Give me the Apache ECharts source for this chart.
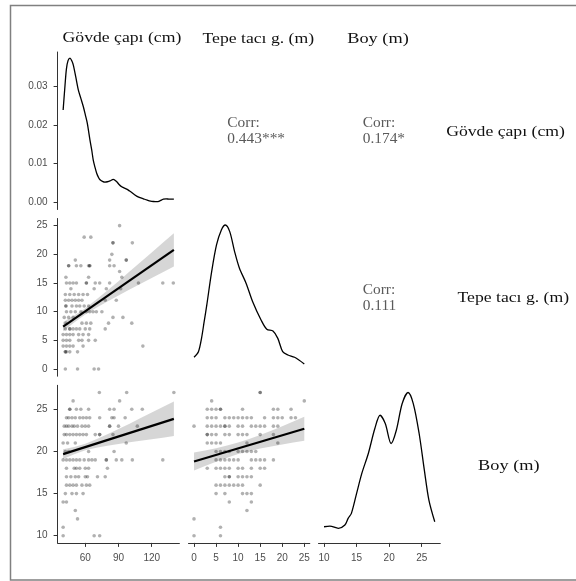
<!DOCTYPE html>
<html><head><meta charset="utf-8">
<script src="https://cdn.jsdelivr.net/npm/echarts@6/dist/echarts.min.js"></script>
<style>html,body{margin:0;padding:0;background:#fff}#c{width:576px;height:581px}</style>
</head><body><div id="c"></div>
<script>
// ---------- DATA ----------
const variables = ['Gövde çapı (cm)', 'Tepe tacı g. (m)', 'Boy (m)'];
const corrTitle = 'Corr:';
const corrGovdeTepe = '0.443***';
const corrGovdeBoy = '0.174*';
const corrTepeBoy = '0.111';

// tick labels
const govdeTicks = [60, 90, 120];
const tepeTicks = [0, 5, 10, 15, 20, 25];
const boyTicks = [10, 15, 20, 25];
const densTicks = [0, 0.01, 0.02, 0.03];

// density of Gövde çapı
const govdeDensX = [40,41.7,43,44.5,46.2,47.8,49.2,51.5,53.7,56,58.2,60,61.8,64.2,65.8,67.2,68.8,70.3,71.8,73.3,75.5,77.8,80,82.3,85.3,88.4,90.5,92.9,95,97.4,100,103.4,106.4,109.4,112.5,115.5,119,121.5,124.5,127,130.5,133,136,140];
const govdeDensY = [0.0238,0.0302,0.0345,0.0366,0.0372,0.0365,0.0354,0.0322,0.0290,0.0268,0.0247,0.0226,0.0204,0.0161,0.0135,0.0109,0.0090,0.0075,0.0065,0.0058,0.0054,0.0052,0.0053,0.0055,0.0059,0.0053,0.0046,0.0040,0.0037,0.0034,0.0029,0.0022,0.0016,0.0012,0.0009,0.0006,0.0003,0.0002,0.00015,0.0003,0.0008,0.0009,0.0008,0.0008];

// density of Tepe tacı
const tepeDensX = [0,1.0,1.7,2.3,2.9,4.0,5.1,6.2,7.1,8.1,9.2,10.3,11.8,13.3,15.2,16.5,17.9,19.0,20.1,21.3,22.8,25];
const tepeDensY = [0.0108,0.0140,0.0216,0.0311,0.0407,0.0597,0.0749,0.0835,0.0863,0.0825,0.0711,0.0616,0.0531,0.0425,0.0321,0.0268,0.0258,0.0216,0.0140,0.0121,0.0108,0.0070];

// density of Boy
const boyDensX = [10,10.9,12.2,13.2,13.7,14.2,15.0,15.8,16.8,17.8,18.6,19.4,20.3,21.1,22.0,22.9,23.7,24.6,25.4,26.1,27];
const boyDensY = [0.0123,0.0128,0.0111,0.0136,0.0187,0.0225,0.0377,0.0529,0.0681,0.0871,0.0972,0.0909,0.0757,0.0858,0.1061,0.1145,0.1061,0.0833,0.0554,0.0326,0.0161];

// scatter: Gövde çapı (x) vs Tepe tacı (y)
const govdeTepePoints = [
 [91,25],[59,23],[65,23],[85,22],[85,22],[102.5,22],[84,20],
 [51,19],[82,19],[97,19],[97,19],
 [45,18],[45,18],[52,18],[56,18],[63,18],[64,18],[64,18],[82,18],[86,18],
 [91,17],[42.5,16],[63,16],[93,16],
 [43,15],[46,15],[49,15],[52,15],[61,15],[61,15],[69,15],[73,15],[82,15],[108,15],[130,15],[139.5,15],
 [47,14],[68,14],[79,14],[92,14],
 [42,13],[46,13],[50,13],[54,13],[58,13],[62,13],
 [42,12],[45,12],[48,12],[51,12],[54,12],[57,12],[78,12],[88,12],
 [42.5,11],[42.5,11],[48,11],[52,11],[55,11],[59,11],[63,11],
 [43,10],[47,10],[51,10],[56,10],[61,10],[64,10],[67,10],[70,10],[75,10],
 [41,9],[45,9],[49,9],[85,9],[94,9],
 [42.5,8],[57,8],[61,8],[65,8],[81,8],[102,8],
 [42,7],[46,7],[46,7],[49,7],[52,7],[55,7],[60,7],[64,7],[78,7],
 [40,6],[43,6],[46,6],[49,6],[54,6],[58,6],[63,6],
 [40,5],[43,5],[46,5],[54,5],[57,5],[63,5],[69,5],
 [40,4],[43,4],[46,4],[49,4],[58,4],[112,4],
 [42,3],[42,3],[43,3],[46,3],[53,3],
 [42,0],[53,0],[68,0],[72,0]
];
// scatter: Gövde çapı (x) vs Boy (y)
const govdeBoyPoints = [
 [72.7,27],[97.4,27],[140,27],[49,26],[91,26],
 [46,25],[46,25],[52,25],[56,25],[63,25],[82,25],[86,25],[102,25],[111.5,25],
 [43,24],[45,24],[48,24],[51,24],[55,24],[58,24],[61,24],[64,24],[73,24],[84,24],[86,24],[96,24],
 [41,23],[43,23],[45,23],[48,23],[50,23],[53,23],[57,23],[60,23],[63,23],[82,23],[82,23],[90,23],[107,23],
 [41,22],[43,22],[46,22],[49,22],[52,22],[55,22],[58,22],[61,22],[69,22],[73,22],[73,22],[85,22],
 [40,21],[44,21],[51,21],[97,21],
 [42,20],[45,20],[63,20],[86,20],
 [40,19],[43,19],[46,19],[49,19],[52,19],[55,19],[59,19],[63,19],[66,19],[69,19],[79,19],[79,19],[88,19],[93,19],[102.5,19],[130,19],
 [43,18],[50,18],[52,18],[55,18],[60,18],[63,18],[80,18],
 [43,17],[47,17],[51,17],[54,17],[60,17],[62,17],[71,17],[78,17],
 [43,16],[46,16],[49,16],[52,16],[57,16],[61,16],[64,16],
 [42,15],[48,15],[52,15],[58,15],
 [40,14],[43,14],[51,13],[53,12],[40,11],[40,10],[68,10],[73,10]
];
// scatter: Tepe tacı (x) vs Boy (y)
const tepeBoyPoints = [
 [15,27],[15,27],[4,26],[25,26],
 [3,25],[4,25],[5,25],[6,25],[6,25],[11,25],[18,25],[19,25],[22,25],
 [3,24],[4,24],[5,24],[7,24],[8,24],[9,24],[10,24],[11,24],[12,24],[13,24],[16,24],[18,24],[19,24],[20,24],[22,24],[23,24],
 [0,23],[3,23],[4,23],[5,23],[6,23],[7,23],[7,23],[8,23],[10,23],[11,23],[13,23],[14,23],[15,23],[16,23],[18,23],[19,23],
 [3,22],[3,22],[4,22],[5,22],[7,22],[8,22],[10,22],[11,22],[12,22],[15,22],[18,22],
 [3,21],[4,21],[5,21],[6,21],[12,21],[19,21],
 [5,20],[6,20],[7,20],[8,20],[10,20],[11,20],[12,20],[13,20],[14,20],
 [5,19],[6,19],[7,19],[8,19],[9,19],[10,19],[13,19],[14,19],[15,19],[16,19],[18,19],
 [3,18],[5,18],[6,18],[7,18],[8,18],[10,18],[11,18],[13,18],[15,18],[16,18],
 [7,17],[8,17],[8,17],[10,17],[11,17],[12,17],[13,17],
 [5,16],[6,16],[7,16],[8,16],[9,16],[10,16],[11,16],[15,16],
 [5,15],[7,15],[11,15],[12,15],[13,15],
 [8,14],[13,14],[12,13],[0,12],[6,11],[0,10],[6,10]
];

// linear fits and their confidence bands
const fitGovdeTepeX = [40, 140];
const fitGovdeTepeY = [7.38, 20.78];
const bandGovdeTepeX = [40, 50, 60, 70, 80, 90, 100, 110, 120, 130, 140];
const bandGovdeTepeLo = [6.58, 8.12, 9.50, 10.69, 11.77, 12.84, 13.85, 14.86, 15.87, 16.88, 17.88];
const bandGovdeTepeHi = [8.18, 9.32, 10.62, 12.11, 13.71, 15.32, 16.99, 18.66, 20.33, 22.00, 23.68];

const fitGovdeBoyX = [40, 140];
const fitGovdeBoyY = [19.68, 23.87];
const bandGovdeBoyX = [40, 50, 60, 70, 80, 90, 100, 110, 120, 130, 140];
const bandGovdeBoyLo = [19.11, 19.68, 20.13, 20.44, 20.68, 20.89, 21.08, 21.27, 21.45, 21.64, 21.82];
const bandGovdeBoyHi = [20.25, 20.52, 20.91, 21.44, 22.04, 22.66, 23.30, 23.96, 24.61, 25.27, 25.92];

const fitTepeBoyX = [0, 25];
const fitTepeBoyY = [18.81, 22.69];
const bandTepeBoyX = [0, 2.5, 5, 7.5, 10, 12.5, 15, 17.5, 20, 22.5, 25];
const bandTepeBoyLo = [17.73, 18.27, 18.79, 19.26, 19.69, 20.03, 20.34, 20.60, 20.84, 21.06, 21.26];
const bandTepeBoyHi = [19.89, 20.11, 20.39, 20.70, 21.05, 21.47, 21.94, 22.45, 23.00, 23.55, 24.12];

// ---------- CHART ----------
const zip = (a, b) => a.map((v, i) => [v, b[i]]);
const labelStyle = {fontFamily: 'Liberation Sans', fontSize: 10, color: '#4d4d4d'};

function axis(gi, min, max, ticks, fmt) {
  const a = {type: 'value', gridIndex: gi, min: min, max: max, show: !!ticks,
             splitLine: {show: false}, scale: true};
  if (ticks) {
    a.axisLine = {show: true, onZero: false, lineStyle: {color: '#333', width: 1}};
    a.axisTick = {show: true, length: 4, lineStyle: {color: '#333'}, customValues: ticks};
    a.axisLabel = Object.assign({show: true, customValues: ticks, margin: 10,
      formatter: fmt || (v => String(v))}, labelStyle);
  }
  return a;
}

const grids = [
  {left: 57.6, top: 52, width: 121.8, height: 157.5},
  {left: 57.6, top: 218.5, width: 121.8, height: 157.7},
  {left: 57.6, top: 385.3, width: 121.8, height: 157.6},
  {left: 188.5, top: 218.5, width: 121.3, height: 157.7},
  {left: 188.5, top: 385.3, width: 121.3, height: 157.6},
  {left: 318.5, top: 385.3, width: 121.8, height: 157.6}
].map(g => Object.assign({outerBoundsMode: 'none', containLabel: false}, g));

const xAxes = [
  axis(0, 35, 145, null),
  axis(1, 35, 145, null),
  Object.assign(axis(2, 35, 145, govdeTicks), {position: 'bottom'}),
  axis(3, -1.25, 26.25, null),
  Object.assign(axis(4, -1.25, 26.25, tepeTicks), {position: 'bottom'}),
  Object.assign(axis(5, 9.15, 27.85, boyTicks), {position: 'bottom'})
];
const yAxes = [
  Object.assign(axis(0, -0.00186, 0.03877, densTicks, v => v.toFixed(2)), {position: 'left'}),
  Object.assign(axis(1, -1.25, 26.25, tepeTicks), {position: 'left'}),
  Object.assign(axis(2, 9.15, 27.85, boyTicks), {position: 'left'}),
  axis(3, 0, 0.09, null),
  axis(4, 9.15, 27.85, null),
  axis(5, 0, 0.12, null)
];

function density(idx, xs, ys) {
  return {type: 'line', xAxisIndex: idx, yAxisIndex: idx, data: zip(xs, ys), smooth: 0.3,
          symbol: 'none', silent: true, lineStyle: {color: '#000', width: 1.3}};
}
function points(idx, pts) {
  return {type: 'scatter', xAxisIndex: idx, yAxisIndex: idx, data: pts, symbol: 'circle',
          symbolSize: 3.6, silent: true, itemStyle: {color: 'rgba(0,0,0,0.38)'}};
}
function band(idx, xs, lo, hi) {
  const rows = xs.map((x, i) => [x, lo[i], hi[i]]);
  return {
    type: 'custom', xAxisIndex: idx, yAxisIndex: idx, silent: true, data: rows,
    encode: {x: 0, y: [1, 2]},
    renderItem: function (params, api) {
      if (params.dataIndex !== 0) return null;
      const top = rows.map(r => api.coord([r[0], r[2]]));
      const bottom = rows.slice().reverse().map(r => api.coord([r[0], r[1]]));
      return {type: 'polygon', shape: {points: top.concat(bottom)},
              style: {fill: 'rgba(153,153,153,0.4)', stroke: 'none'}};
    }
  };
}
function fit(idx, xs, ys) {
  return {type: 'line', xAxisIndex: idx, yAxisIndex: idx, data: zip(xs, ys), symbol: 'none',
          silent: true, lineStyle: {color: '#000', width: 2.2}};
}

const series = [
  density(0, govdeDensX, govdeDensY),
  points(1, govdeTepePoints),
  band(1, bandGovdeTepeX, bandGovdeTepeLo, bandGovdeTepeHi),
  fit(1, fitGovdeTepeX, fitGovdeTepeY),
  points(2, govdeBoyPoints),
  band(2, bandGovdeBoyX, bandGovdeBoyLo, bandGovdeBoyHi),
  fit(2, fitGovdeBoyX, fitGovdeBoyY),
  density(3, tepeDensX, tepeDensY),
  points(4, tepeBoyPoints),
  band(4, bandTepeBoyX, bandTepeBoyLo, bandTepeBoyHi),
  fit(4, fitTepeBoyX, fitTepeBoyY),
  density(5, boyDensX, boyDensY)
];

function txt(text, x, y, size, color, align, sx) {
  return {type: 'text', x: x, y: y, scaleX: sx, silent: true,
    style: {text: text, fill: color, font: size + 'px "Liberation Serif", "Times New Roman", serif',
            textAlign: align, textVerticalAlign: 'middle', align: align, verticalAlign: 'middle'}};
}
const corrColor = '#5a5a5a';
const graphic = [
  {type: 'rect', silent: true, shape: {x: 10.5, y: 5.5, width: 620, height: 574.5},
   style: {fill: 'none', stroke: '#808080', lineWidth: 1.5}},
  txt(variables[0], 121.9, 38, 15.5, '#111', 'center', 1.14),
  txt(variables[1], 258.3, 39, 15.5, '#111', 'center', 1.14),
  txt(variables[2], 378, 39, 15.5, '#111', 'center', 1.18),
  txt(variables[0], 505.5, 131.7, 15.5, '#111', 'center', 1.14),
  txt(variables[1], 513.3, 298.3, 15.5, '#111', 'center', 1.14),
  txt(variables[2], 508.8, 466, 15.5, '#111', 'center', 1.18),
  txt(corrTitle, 227.3, 123, 14, corrColor, 'left', 1.1),
  txt(corrGovdeTepe, 227.3, 139, 14, corrColor, 'left', 1.1),
  txt(corrTitle, 362.7, 123, 14, corrColor, 'left', 1.1),
  txt(corrGovdeBoy, 362.7, 139, 14, corrColor, 'left', 1.1),
  txt(corrTitle, 362.7, 290, 14, corrColor, 'left', 1.1),
  txt(corrTepeBoy, 362.7, 306.7, 14, corrColor, 'left', 1.1)
];

const chart = echarts.init(document.getElementById('c'), null, {renderer: 'canvas'});
chart.setOption({
  animation: false,
  backgroundColor: '#fff',
  grid: grids,
  xAxis: xAxes,
  yAxis: yAxes,
  series: series,
  graphic: graphic
});
</script>
</body></html>
